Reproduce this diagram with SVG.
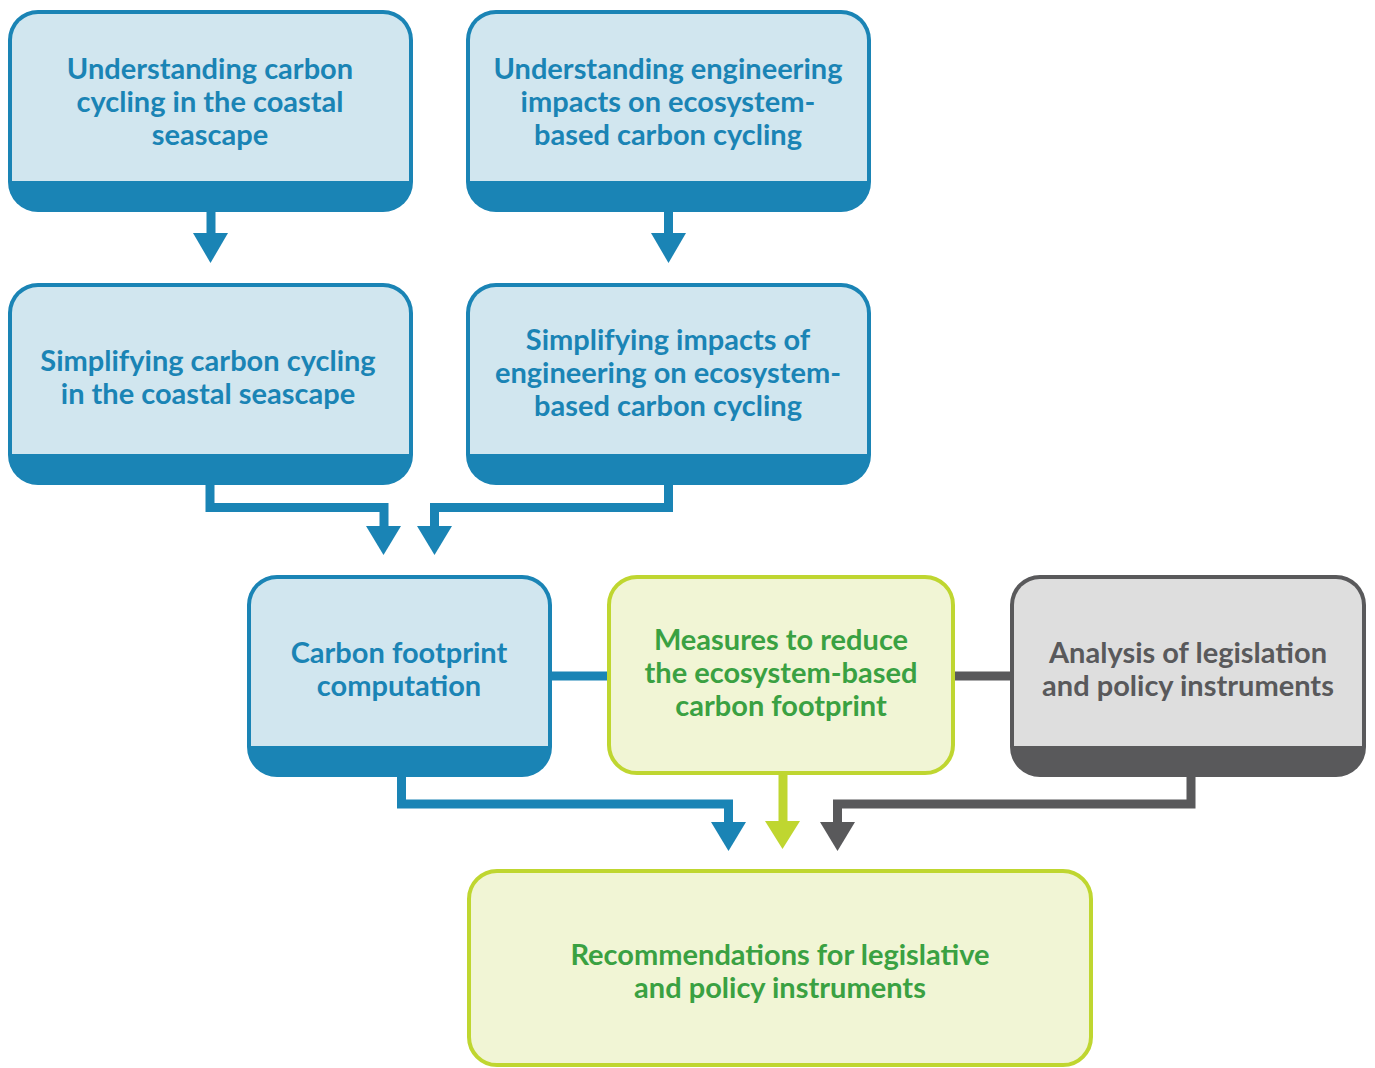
<svg xmlns="http://www.w3.org/2000/svg" width="1375" height="1068" viewBox="0 0 1375 1068">
<style>
.bo{fill:#1a84b5}
.bi{fill:#d1e6ef}
.go{fill:#59595b}
.gi{fill:#dedede}
.gr{fill:#f1f5d5;stroke:#bfd630;stroke-width:4}
.t{font-family:Lato,"Open Sans",sans-serif;font-weight:bold;font-size:29px;text-anchor:middle}
.tb{fill:#1a84b5}
.tg{fill:#3aa142}
.tk{fill:#59595b}
.cb{fill:none;stroke:#1a84b5;stroke-width:9}
.cg{fill:none;stroke:#bfd630;stroke-width:9}
.ck{fill:none;stroke:#59595b;stroke-width:9}
.hb{fill:#1a84b5}
.hg{fill:#bfd630}
.hk{fill:#59595b}
</style>
<g id="connectors">
<path class="cb" d="M211,210 V236"/><polygon class="hb" points="193,233 228,233 210.5,263"/>
<path class="cb" d="M668.5,210 V236"/><polygon class="hb" points="651,233 686,233 668.5,263"/>
<path class="cb" d="M210,483 V507.5 H384 V528"/><polygon class="hb" points="366,526 401,526 383.5,555"/>
<path class="cb" d="M668.5,483 V507.5 H434.5 V528"/><polygon class="hb" points="417,526 452,526 434.5,555"/>
<path class="cb" d="M550,676 H609"/>
<path class="ck" d="M953,676 H1012"/>
<path class="cb" d="M401.5,775 V804 H728.5 V824"/><polygon class="hb" points="711,822 746,822 728.5,851"/>
<path class="cg" d="M783,775 V824"/><polygon class="hg" points="765,821 800,821 782.5,849"/>
<path class="ck" d="M1191,775 V804 H837.5 V824"/><polygon class="hk" points="820,822 855,822 837.5,851"/>
</g>
<g id="n1">
<rect class="bo" x="8" y="10" width="405" height="202" rx="30"/>
<path class="bi" d="M12,181 V40 A26,26 0 0 1 38,14 H383 A26,26 0 0 1 409,40 V181 Z"/>
<text class="t tb" x="210" y="79">Understanding carbon</text>
<text class="t tb" x="210" y="112">cycling in the coastal</text>
<text class="t tb" x="210" y="145">seascape</text>
</g>
<g id="n2">
<rect class="bo" x="466" y="10" width="405" height="202" rx="30"/>
<path class="bi" d="M470,181 V40 A26,26 0 0 1 496,14 H841 A26,26 0 0 1 867,40 V181 Z"/>
<text class="t tb" x="668" y="79">Understanding engineering</text>
<text class="t tb" x="668" y="112">impacts on ecosystem-</text>
<text class="t tb" x="668" y="145">based carbon cycling</text>
</g>
<g id="n3">
<rect class="bo" x="8" y="283" width="405" height="202" rx="30"/>
<path class="bi" d="M12,454 V313 A26,26 0 0 1 38,287 H383 A26,26 0 0 1 409,313 V454 Z"/>
<text class="t tb" x="208" y="371">Simplifying carbon cycling</text>
<text class="t tb" x="208" y="404">in the coastal seascape</text>
</g>
<g id="n4">
<rect class="bo" x="466" y="283" width="405" height="202" rx="30"/>
<path class="bi" d="M470,454 V313 A26,26 0 0 1 496,287 H841 A26,26 0 0 1 867,313 V454 Z"/>
<text class="t tb" x="668" y="350">Simplifying impacts of</text>
<text class="t tb" x="668" y="383">engineering on ecosystem-</text>
<text class="t tb" x="668" y="416">based carbon cycling</text>
</g>
<g id="n5">
<rect class="bo" x="247" y="575" width="305" height="202" rx="30"/>
<path class="bi" d="M251,746 V605 A26,26 0 0 1 277,579 H522 A26,26 0 0 1 548,605 V746 Z"/>
<text class="t tb" x="399" y="663">Carbon footprint</text>
<text class="t tb" x="399" y="696">computation</text>
</g>
<g id="n6">
<rect class="gr" x="609" y="577" width="344" height="196" rx="28"/>
<text class="t tg" x="781" y="650">Measures to reduce</text>
<text class="t tg" x="781" y="683">the ecosystem-based</text>
<text class="t tg" x="781" y="716">carbon footprint</text>
</g>
<g id="n7">
<rect class="go" x="1010" y="575" width="356" height="202" rx="30"/>
<path class="gi" d="M1014,746 V605 A26,26 0 0 1 1040,579 H1336 A26,26 0 0 1 1362,605 V746 Z"/>
<text class="t tk" x="1188" y="663">Analysis of legislation</text>
<text class="t tk" x="1188" y="696">and policy instruments</text>
</g>
<g id="n8">
<rect class="gr" x="469" y="871" width="622" height="194" rx="28"/>
<text class="t tg" x="780" y="965">Recommendations for legislative</text>
<text class="t tg" x="780" y="998">and policy instruments</text>
</g>
</svg>
